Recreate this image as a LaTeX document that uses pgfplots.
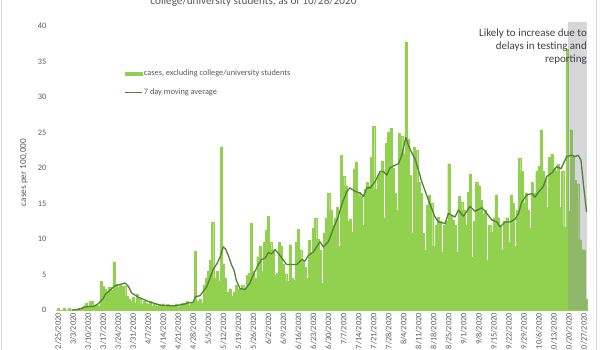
\documentclass[border=0pt]{standalone}
\usepackage{fontspec}
\setmainfont{Carlito}
\usepackage{pgfplots}
\pgfplotsset{compat=1.18}
\definecolor{barc}{RGB}{146,208,80}
\definecolor{linec}{RGB}{84,130,53}
\definecolor{txtg}{RGB}{89,89,89}
\definecolor{annc}{RGB}{64,64,64}
\definecolor{shade}{RGB}{140,140,150}
\definecolor{axl}{RGB}{217,217,217}
\begin{document}
\begin{tikzpicture}
\useasboundingbox (-55.9pt,-40pt) rectangle (544.1pt,310pt);
\clip (-55.9pt,-40pt) rectangle (544.1pt,310pt);
\begin{axis}[
  scale only axis, width=532.4pt, height=284pt,
  xmin=-1, xmax=247, ymin=0, ymax=40,
  clip=false,
  axis x line*=bottom, axis y line*=left,
  y axis line style={draw=none},
  x axis line style={axl, line width=0.75pt},
  major tick length=0pt,
  ytick={0,5,...,40},
  xtick={0,7,...,245},
  xticklabels={2/25/2020,3/3/2020,3/10/2020,3/17/2020,3/24/2020,3/31/2020,4/7/2020,4/14/2020,4/21/2020,4/28/2020,5/5/2020,5/12/2020,5/19/2020,5/26/2020,6/2/2020,6/9/2020,6/16/2020,6/23/2020,6/30/2020,7/7/2020,7/14/2020,7/21/2020,7/28/2020,8/4/2020,8/11/2020,8/18/2020,8/25/2020,9/1/2020,9/8/2020,9/15/2020,9/22/2020,9/29/2020,10/6/2020,10/13/2020,10/20/2020,10/27/2020},
  tick label style={font=\fontsize{8.3}{10}\selectfont, text=txtg},
  xticklabel style={rotate=90, anchor=east, inner sep=0pt},
  xticklabel shift=3pt,
  yticklabel style={anchor=east, inner sep=0pt, xshift=-9.4pt},
  /pgf/number format/assume math mode=true,
  legend cell align=left,
  legend style={draw=none, fill=none, at={(0.129,0.846)}, anchor=north west,
    font=\fontsize{8.3}{10}\selectfont, text=txtg, inner sep=0pt,
    row sep=12pt, column sep=1pt,
    nodes={inner sep=0pt, text height=5.5pt, text depth=1.8pt}},
]
\addplot[ybar, bar width=1, fill=barc, draw=barc, line width=0.2pt,
  legend image code/.code={\fill[barc] (0pt,-1.8pt) rectangle (17pt,1.8pt);}]
coordinates {
(0,0.2)(1,0)(2,0)(3,0.2)(4,0)(5,0.2)(6,0)(7,0)(8,0)(9,0.1)
(10,0.2)(11,0.3)(12,0.6)(13,1.0)(14,0.5)(15,1.2)(16,1.2)(17,0.6)(18,0.7)(19,0.5)
(20,4.0)(21,3.3)(22,3.0)(23,2.6)(24,3.2)(25,2.8)(26,6.8)(27,3.6)(28,3.2)(29,3.5)
(30,3.4)(31,3.3)(32,2.0)(33,1.5)(34,1.2)(35,1.8)(36,1.0)(37,2.2)(38,1.6)(39,0.8)
(40,1.3)(41,1.0)(42,0.8)(43,1.2)(44,0.6)(45,1.0)(46,0.5)(47,0.8)(48,0.7)(49,0.9)
(50,0.4)(51,0.8)(52,0.6)(53,0.5)(54,0.7)(55,0.9)(56,0.4)(57,0.6)(58,1.0)(59,0.8)
(60,1.2)(61,0.7)(62,1.1)(63,1.0)(64,8.3)(65,1.2)(66,1.5)(67,1.0)(68,3.5)(69,4.5)
(70,5.5)(71,7.0)(72,12.4)(73,4.5)(74,5.5)(75,4.0)(76,23.0)(77,6.5)(78,4.5)(79,2.5)
(80,3.0)(81,2.0)(82,2.5)(83,3.5)(84,3.0)(85,3.0)(86,3.5)(87,2.8)(88,4.9)(89,5.2)
(90,12.2)(91,5.5)(92,4.5)(93,7.5)(94,9.0)(95,5.5)(96,9.5)(97,11.2)(98,13.2)(99,9.5)
(100,8.5)(101,4.9)(102,5.2)(103,9.5)(104,9.0)(105,6.5)(106,5.0)(107,4.0)(108,9.2)(109,4.5)
(110,4.2)(111,9.5)(112,11.4)(113,8.5)(114,7.0)(115,6.0)(116,4.5)(117,9.8)(118,8.0)(119,11.5)
(120,12.9)(121,10.0)(122,8.5)(123,3.8)(124,10.8)(125,13.0)(126,16.5)(127,14.0)(128,12.0)(129,13.0)
(130,14.5)(131,9.0)(132,21.8)(133,18.8)(134,17.5)(135,12.5)(136,12.8)(137,11.0)(138,19.9)(139,20.8)
(140,16.5)(141,16.0)(142,12.0)(143,17.0)(144,18.0)(145,17.5)(146,21.5)(147,25.9)(148,17.0)(149,19.0)
(150,19.3)(151,21.0)(152,13.0)(153,23.5)(154,25.0)(155,25.6)(156,20.0)(157,16.5)(158,14.0)(159,24.9)
(160,24.5)(161,22.0)(162,37.8)(163,24.0)(164,19.0)(165,10.8)(166,23.0)(167,22.5)(168,18.0)(169,16.5)
(170,10.8)(171,8.4)(172,14.8)(173,16.2)(174,15.0)(175,9.0)(176,12.0)(177,13.1)(178,12.5)(179,8.1)
(180,12.0)(181,12.5)(182,20.6)(183,13.4)(184,12.7)(185,12.0)(186,8.1)(187,16.0)(188,15.2)(189,14.0)
(190,12.0)(191,16.6)(192,19.2)(193,7.4)(194,12.5)(195,18.0)(196,17.5)(197,15.5)(198,13.5)(199,14.0)
(200,7.0)(201,12.0)(202,11.0)(203,13.0)(204,16.2)(205,13.0)(206,12.0)(207,8.5)(208,12.5)(209,13.0)
(210,9.5)(211,16.2)(212,15.0)(213,9.0)(214,14.0)(215,21.4)(216,19.5)(217,15.0)(218,16.5)(219,14.0)
(220,11.5)(221,18.0)(222,16.5)(223,19.5)(224,20.2)(225,25.4)(226,19.5)(227,18.5)(228,14.5)(229,21.5)
(230,22.0)(231,20.0)(232,19.5)(233,20.5)(234,14.5)(235,19.5)(236,11.7)(237,36.7)(238,13.9)(239,25.4)
(240,21.8)(241,18.3)(242,17.8)(243,9.9)(244,8.5)(245,8.5)(246,1.6)
};
\addlegendentry{cases, excluding college/university students}
\addplot[forget plot, draw=none, fill=shade, fill opacity=0.35]
coordinates {(237.5,0) (237.5,40.6) (246.5,40.6) (246.5,0)} -- cycle;
\addplot[linec, line width=1.3pt, line join=round,
  legend image code/.code={\draw[linec, line width=1.2pt] (0pt,0pt) -- (17pt,0pt);}]
coordinates {
(6.4,0)(9.5,0.1)(12.6,0.4)(14,0.5)(16.5,0.5)(18.8,0.9)(20,1.3)(21,1.6)(22,2.2)(24.2,2.8)
(26.5,3.4)(28.9,3.6)(31.2,3.8)(32.8,3.3)(34.3,2.4)(37.4,1.8)(39.8,1.5)(42,1.2)(45.2,0.9)(47.5,0.7)
(50.6,0.6)(54.5,0.6)(58.4,0.8)(60.7,1.0)(63,1.1)(64,1.9)(66.1,2.0)(69.3,3.3)(72.4,5.8)(74,6.5)
(75.5,7.5)(77,8.9)(78,8.6)(79.3,7.7)(80.9,6.3)(82,5.6)(83,4.2)(84.8,3.0)(87.1,2.9)(89.4,3.8)
(91,5.0)(93.3,6.4)(94.9,7.1)(96.4,7.3)(98,8.1)(99.5,7.9)(101.1,8.5)(102.6,8.0)(105,7.0)(106.5,6.4)
(108.9,6.4)(111.2,6.4)(113.5,7.1)(115.1,6.9)(116.6,7.7)(119,8.2)(122,9.6)(123.6,8.9)(125.9,9.6)(128.3,11.5)
(130.6,13.2)(132.1,14.8)(134.5,16.7)(136,17.2)(138.4,16.7)(140.7,16.5)(142.3,16.0)(143.8,17.2)(145.4,17.2)(147.7,18.1)
(150,19.5)(151.6,19.5)(153.1,19.0)(154.6,20.0)(157,20.4)(158.6,20.6)(160.1,21.8)(162,24.3)(163.2,23.2)(164.8,22.1)
(166.3,21.3)(169.4,18.1)(172.5,15.5)(175.6,13.1)(177.2,12.4)(180.3,12.2)(181.8,13.6)(184.9,13.1)(186.5,14.1)(188.8,13.2)
(190.4,13.9)(191.9,14.6)(194.3,13.9)(197.4,14.4)(199,13.9)(202,12.7)(204.4,12.4)(205.9,11.7)(208.2,12.4)(210.6,12.4)
(212.9,12.8)(214.5,13.6)(216,15.2)(218.3,16.2)(220.7,16.4)(222.2,15.9)(223.8,16.6)(226.1,17.4)(227.6,18.8)(230,19.3)
(232.3,20.2)(234.3,19.9)(236.9,21.6)(239.3,21.8)(240.8,21.6)(242.3,21.8)(243.6,21.1)(244.7,17.8)(246.2,13.8)
};
\addlegendentry{7 day moving average}
\end{axis}
\node[anchor=base, font=\fontsize{11.2}{13}\selectfont, text=txtg, inner sep=0pt] at (197.6pt,305.7pt) {college/university students, as of 10/28/2020};
\node[anchor=base east, font=\fontsize{11}{13.3}\selectfont, text=annc, inner sep=0pt] at (531.1pt,273.8pt) {Likely to increase due to};
\node[anchor=base east, font=\fontsize{11}{13.3}\selectfont, text=annc, inner sep=0pt] at (531.1pt,260.5pt) {delays in testing and};
\node[anchor=base east, font=\fontsize{11}{13.3}\selectfont, text=annc, inner sep=0pt] at (531.1pt,247.2pt) {reporting};
\node[rotate=90, font=\fontsize{9.2}{11}\selectfont, text=txtg, inner sep=0pt] at (-31.9pt,137.5pt) {cases per 100,000};
\draw[axl, line width=0.75pt] (-54.4pt,-40pt) -- (-54.4pt,310pt);
\draw[axl, line width=0.75pt] (540.9pt,-40pt) -- (540.9pt,310pt);
\end{tikzpicture}
\end{document}
